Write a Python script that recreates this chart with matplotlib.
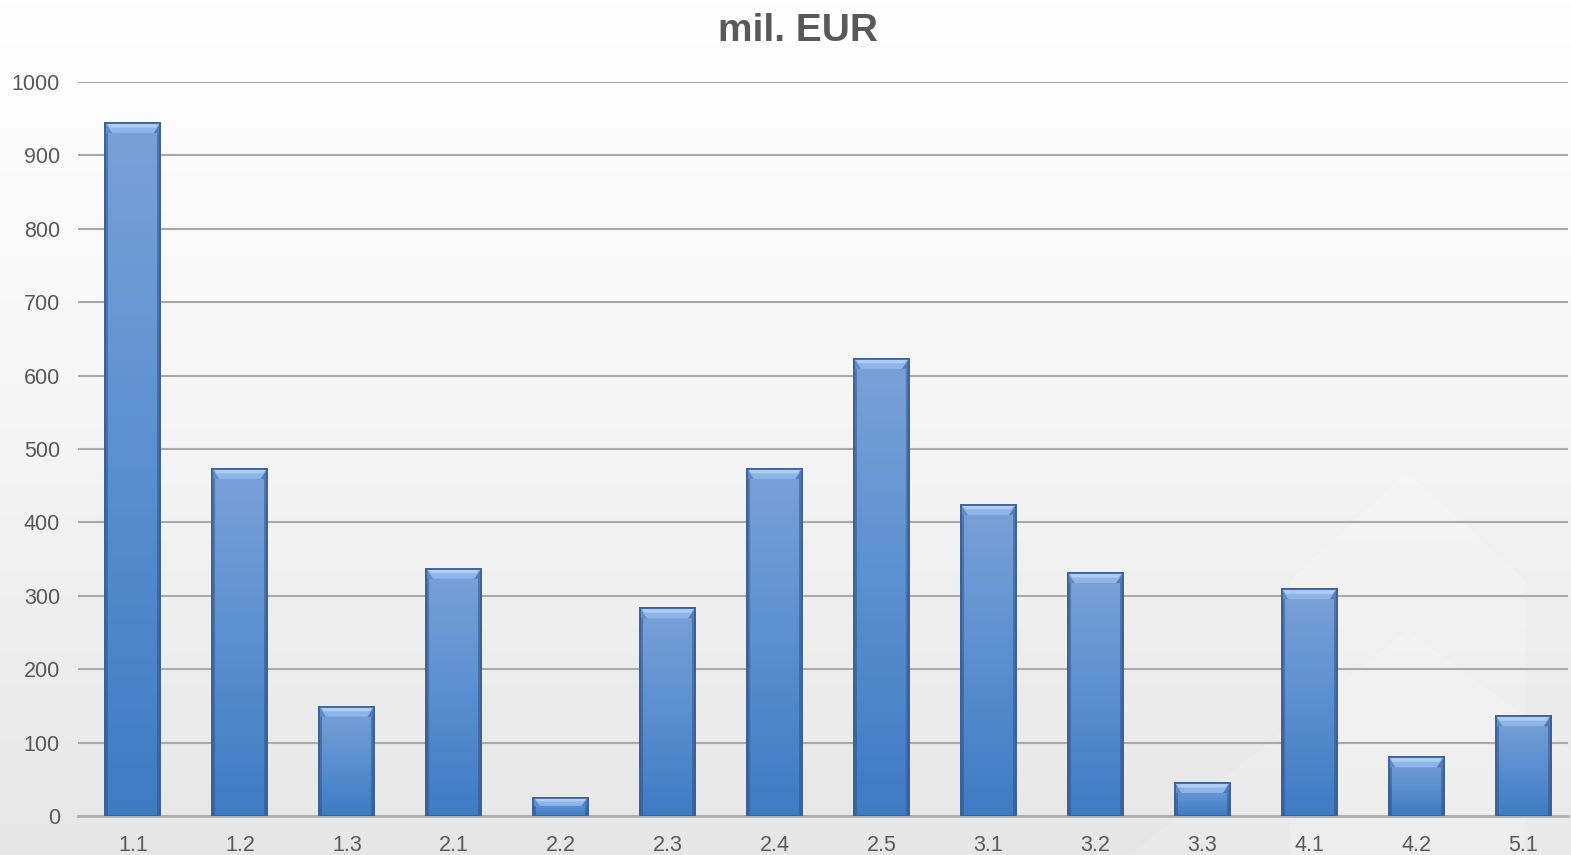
import numpy as np
import matplotlib
matplotlib.use("Agg")
import matplotlib.pyplot as plt
from matplotlib.patches import Polygon
from matplotlib.colors import LinearSegmentedColormap

categories = ["1.1", "1.2", "1.3", "2.1", "2.2", "2.3", "2.4", "2.5",
              "3.1", "3.2", "3.3", "4.1", "4.2", "5.1"]
values = [944, 473, 149, 337, 25, 283, 473, 623, 424, 331, 45, 309, 80, 136]
yticks = [0, 100, 200, 300, 400, 500, 600, 700, 800, 900, 1000]
title = "mil. EUR"

plt.rcParams['font.family'] = ['Liberation Sans', 'DejaVu Sans']

W, H = 1571, 855
fig = plt.figure(figsize=(W / 100, H / 100), dpi=100)

# figure background gradient (white top -> light gray bottom)
bg = fig.add_axes([0, 0, 1, 1], zorder=-10)
grad = np.linspace(0, 1, 256).reshape(-1, 1)
bg_cmap = LinearSegmentedColormap.from_list("bg", ["#ffffff", "#f5f5f5", "#e6e6e6"])
bg.imshow(grad, aspect='auto', cmap=bg_cmap, extent=[0, W, 0, H], origin='upper')
# faint house watermark (pixel coords, y from bottom)
bg.add_patch(Polygon([(1290, 0), (1290, H - 580), (1407, H - 472), (1525, H - 580), (1525, 0)],
                     closed=True, facecolor="#ffffff", alpha=0.2, edgecolor='none'))
bg.add_patch(Polygon([(1130, 0), (1407, H - 630), (1571, H - 750), (1571, 0)],
                     closed=True, facecolor="#ffffff", alpha=0.15, edgecolor='none'))
bg.set_xlim(0, W)
bg.set_ylim(0, H)
bg.axis('off')

left, right = 78 / W, 1568 / W
bottom, top = (H - 816) / H, (H - 82) / H
ax = fig.add_axes([left, bottom, right - left, top - bottom])
ax.patch.set_alpha(0)

x = np.arange(len(categories))
width = 0.514
ax.set_xlim(-0.514, len(categories) - 1 + 0.42)
ax.set_ylim(0, 1000)

bars = ax.bar(x, values, width=width, color="#4f86c6", edgecolor="#35598c",
              linewidth=1.2, zorder=3)

ax.set_yticks(yticks)
ax.set_xticks(x)
ax.set_xticklabels(categories)
ax.yaxis.grid(True, color="#a9a9a9", linewidth=1.5, zorder=0)
ax.set_axisbelow(True)
for s in ["left", "right", "top"]:
    ax.spines[s].set_visible(False)
ax.spines["bottom"].set_color("#b0b0b0")
ax.spines["bottom"].set_linewidth(2)
ax.tick_params(axis='both', length=0, labelsize=15.5, colors="#595959")
ax.tick_params(axis='y', pad=13)
ax.tick_params(axis='x', pad=14)

fig.canvas.draw()
px_x = (ax.get_xlim()[1] - ax.get_xlim()[0]) / (ax.bbox.width)
px_y = (ax.get_ylim()[1] - ax.get_ylim()[0]) / (ax.bbox.height)

body_cmap = LinearSegmentedColormap.from_list("body", ["#7aa1d7", "#5a8fd0", "#3f7bc3"])
for b in bars:
    bx0, by0 = b.get_x(), b.get_y()
    bw, bh = b.get_width(), b.get_height()
    g = np.linspace(0, 1, 128).reshape(-1, 1)
    im = ax.imshow(g, aspect='auto', cmap=body_cmap, origin='upper',
                   extent=[bx0, bx0 + bw, by0, by0 + bh], zorder=3.1)
    im.set_clip_path(b)
    ex = 3 * px_x
    inx = 7 * px_x
    iny = min(10 * px_y, bh * 0.45)
    ytop = by0 + bh
    # side darker edges
    for xs in (bx0, bx0 + bw - ex):
        ax.add_patch(Polygon([(xs, by0), (xs, ytop), (xs + ex, ytop), (xs + ex, by0)],
                             closed=True, facecolor="#2f558c", alpha=0.55,
                             edgecolor='none', zorder=3.2))
    # side bevel triangles (darker)
    ax.add_patch(Polygon([(bx0, ytop), (bx0 + inx, ytop - iny), (bx0, ytop - iny)],
                         closed=True, facecolor="#5f8dc8", edgecolor='none', zorder=3.3))
    ax.add_patch(Polygon([(bx0 + bw, ytop), (bx0 + bw - inx, ytop - iny), (bx0 + bw, ytop - iny)],
                         closed=True, facecolor="#4f7cb8", edgecolor='none', zorder=3.3))
    # top bevel trapezoid (lighter)
    ax.add_patch(Polygon([(bx0, ytop), (bx0 + bw, ytop),
                          (bx0 + bw - inx, ytop - iny), (bx0 + inx, ytop - iny)],
                         closed=True, facecolor="#8fb5e8", edgecolor='none', zorder=3.35))
    ax.add_patch(Polygon([(bx0 + inx * 0.3, ytop - iny * 0.1), (bx0 + bw - inx * 0.3, ytop - iny * 0.1),
                          (bx0 + bw - inx * 0.6, ytop - iny * 0.45), (bx0 + inx * 0.6, ytop - iny * 0.45)],
                         closed=True, facecolor="#aecdf3", edgecolor='none', zorder=3.4))
    # outline
    ax.add_patch(Polygon([(bx0, by0), (bx0, ytop), (bx0 + bw, ytop), (bx0 + bw, by0)],
                         closed=True, facecolor='none', edgecolor="#3d5f92",
                         linewidth=1.2, zorder=3.5))

fig.text(798 / W, 1 - 31 / H, title, ha='center', va='center', fontsize=28,
         fontweight='bold', color="#595959")

fig.savefig("out.png", dpi=100)
